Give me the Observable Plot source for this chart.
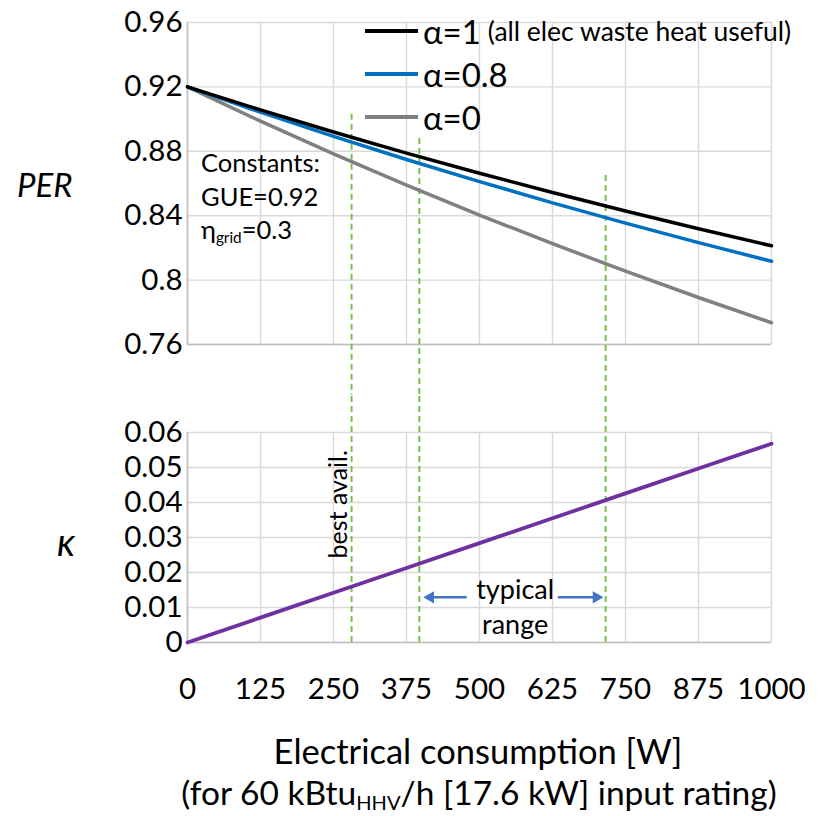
<!DOCTYPE html>
<html><head><meta charset="utf-8">
<script src="https://cdn.jsdelivr.net/npm/d3@7"></script>
<script src="https://cdn.jsdelivr.net/npm/@observablehq/plot@0.6"></script>
<style>
body{margin:0;background:#fff;font-family:Lato,"Open Sans",sans-serif;}
#wrap{position:relative;width:821px;height:816px;overflow:hidden;background:#fff;}
#wrap svg{position:absolute;left:0;}
.abs{position:absolute;white-space:nowrap;color:#000;line-height:1;}
.row{position:absolute;display:flex;align-items:center;height:40px;white-space:nowrap;}
.sample{width:53px;height:4px;margin-right:5px;}
sub{font-size:0.6em;vertical-align:-0.25em;line-height:0;}
</style></head><body><div id="wrap"></div>
<script>
// ---- data ----
const watts = [0, 125, 250, 375, 500, 625, 750, 875, 1000];
const perAlpha1  = [0.92, 0.9057, 0.8920, 0.8789, 0.8664, 0.8544, 0.8429, 0.8319, 0.8213];
const perAlpha08 = [0.92, 0.9043, 0.8893, 0.8749, 0.8612, 0.8480, 0.8354, 0.8233, 0.8117];
const perAlpha0  = [0.92, 0.8987, 0.8784, 0.8590, 0.8404, 0.8226, 0.8056, 0.7892, 0.7735];
const kappa      = [0, 0.0071, 0.0142, 0.0213, 0.0284, 0.0355, 0.0426, 0.0497, 0.0568];
const xTicks = [0, 125, 250, 375, 500, 625, 750, 875, 1000];
const perTicks = [0.76, 0.8, 0.84, 0.88, 0.92, 0.96];
const kappaTicks = [0, 0.01, 0.02, 0.03, 0.04, 0.05, 0.06];
const markerW = [281, 397, 716];          // dashed reference lines [W]
const markerTopPER = [0.903, 0.888, 0.865]; // top end of each dashed line
const arrowY = 0.0129;
const arrowsLeft = [{x1: 479, x2: 414}];
const arrowsRight = [{x1: 635, x2: 702}];
const arrowHeads = [{x: 416, rot: -90}, {x: 700, rot: 90}];

const pts = (ys) => watts.map((w, i) => ({w, v: ys[i]}));
const green = "#70c044", grid = "#d9d9d9", axisC = "#bfbfbf";
const font = "Lato, 'Open Sans', sans-serif";

const topH = 395;
const topPlot = Plot.plot({
  width: 821, height: topH,
  marginLeft: 187, marginRight: 50, marginTop: 22, marginBottom: topH - 344,
  style: {fontFamily: font, fontSize: "29.5px", background: "transparent", overflow: "hidden", color: "#000"},
  x: {domain: [0, 1000], axis: null},
  y: {domain: [0.76, 0.96], ticks: perTicks, tickFormat: d => String(d), tickSize: 0, tickPadding: 5, label: null},
  marks: [
    Plot.ruleX(xTicks, {stroke: grid, strokeWidth: 1.4}),
    Plot.ruleY(perTicks, {stroke: grid, strokeWidth: 1.4}),
    Plot.ruleY([0.76], {stroke: axisC, strokeWidth: 1.6}),
    Plot.ruleX([0], {stroke: axisC, strokeWidth: 1.6}),
    Plot.ruleX(markerW.map((w, i) => ({w, t: markerTopPER[i]})), {x: "w", y1: "t", y2: () => 0.70, stroke: green, strokeWidth: 1.9, strokeDasharray: "6,4"}),
    Plot.line(pts(perAlpha0), {x: "w", y: "v", stroke: "#808080", strokeWidth: 3.5}),
    Plot.line(pts(perAlpha08), {x: "w", y: "v", stroke: "#0070c0", strokeWidth: 3.5}),
    Plot.line(pts(perAlpha1), {x: "w", y: "v", stroke: "#000000", strokeWidth: 3.5})
  ]
});

const botH = 816 - topH;
const botPlot = Plot.plot({
  width: 821, height: botH,
  marginLeft: 187, marginRight: 50, marginTop: 432 - topH, marginBottom: botH - (642 - topH),
  style: {fontFamily: font, fontSize: "29.5px", background: "transparent", overflow: "hidden", color: "#000"},
  x: {domain: [0, 1000], ticks: xTicks, tickFormat: d => String(d), tickSize: 0, tickPadding: 36, label: null},
  y: {domain: [0, 0.06], ticks: kappaTicks, tickFormat: d => String(d), tickSize: 0, tickPadding: 5, label: null},
  marks: [
    Plot.ruleX(xTicks, {stroke: grid, strokeWidth: 1.4}),
    Plot.ruleY(kappaTicks, {stroke: grid, strokeWidth: 1.4}),
    Plot.ruleY([0], {stroke: axisC, strokeWidth: 1.6}),
    Plot.ruleX([0], {stroke: axisC, strokeWidth: 1.6}),
    Plot.ruleX(markerW, {x: d => d, y1: () => 0, y2: () => 0.075, stroke: green, strokeWidth: 1.9, strokeDasharray: "6,4"}),
    Plot.line(pts(kappa), {x: "w", y: "v", stroke: "#7030a0", strokeWidth: 3.8}),
    Plot.text(["best avail."], {x: () => 260, y: () => 0.024, rotate: -90, textAnchor: "start", fontSize: 25, fill: "#000"}),
    Plot.text(["typical\nrange"], {x: () => 561, y: () => 0.0107, fontSize: 27, lineHeight: 1.3, fill: "#000"}),
    Plot.ruleY(arrowsLeft, {y: () => arrowY, x1: "x1", x2: "x2", stroke: "#4472c4", strokeWidth: 2.5}),
    Plot.ruleY(arrowsRight, {y: () => arrowY, x1: "x1", x2: "x2", stroke: "#4472c4", strokeWidth: 2.5}),
    Plot.dot(arrowHeads, {x: "x", y: () => arrowY, rotate: "rot", symbol: "triangle", r: 4.6, fill: "#4472c4", stroke: "none"})
  ]
});

const wrap = document.getElementById("wrap");
topPlot.style.top = "0px";
botPlot.style.top = topH + "px";
wrap.appendChild(topPlot);
wrap.appendChild(botPlot);

function addHTML(html, css) {
  const d = document.createElement("div");
  d.className = "abs";
  d.innerHTML = html;
  Object.assign(d.style, css);
  wrap.appendChild(d);
  return d;
}
// legend
const legend = [
  {c: "#000000", t: "α=1", extra: "(all elec waste heat useful)", y: 31},
  {c: "#0070c0", t: "α=0.8", extra: "", y: 74},
  {c: "#808080", t: "α=0", extra: "", y: 117}
];
legend.forEach(l => {
  const r = document.createElement("div");
  r.className = "row";
  r.style.left = "365px";
  r.style.top = (l.y - 20) + "px";
  r.innerHTML = `<div class="sample" style="background:${l.c}"></div><span style="font-size:33px">${l.t}</span>` +
    (l.extra ? `<span style="font-size:26.5px;margin-left:7px">${l.extra}</span>` : "");
  wrap.appendChild(r);
});
// constants note
addHTML("Constants:", {left: "201px", top: "150px", fontSize: "25.5px"});
addHTML("GUE=0.92", {left: "201px", top: "184px", fontSize: "25.5px"});
addHTML("η<sub>grid</sub>=0.3", {left: "201px", top: "217px", fontSize: "25.5px"});
// axis labels
addHTML("PER", {left: "17px", top: "168px", fontSize: "33px", fontStyle: "italic"});
addHTML("κ", {left: "57px", top: "522px", fontSize: "38px", fontStyle: "italic"});
addHTML("Electrical consumption [W]", {left: "0px", width: "956px", textAlign: "center", top: "734px", fontSize: "34.5px"});
addHTML("(for 60 kBtu<sub>HHV</sub>/h [17.6 kW] input rating)", {left: "0px", width: "958px", textAlign: "center", top: "776px", fontSize: "33.5px"});
</script></body></html>
